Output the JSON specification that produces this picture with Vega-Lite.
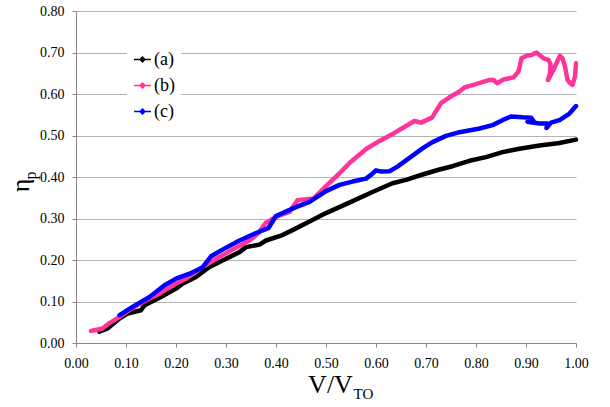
{
  "$schema": "https://vega.github.io/schema/vega-lite/v6.json",
  "width": 500,
  "height": 332,
  "autosize": {"type": "none"},
  "padding": {"left": 76, "top": 11, "right": 34, "bottom": 64},
  "background": "white",
  "config": {
    "view": {"stroke": null},
    "font": "Liberation Serif",
    "axis": {"labelFont": "Liberation Serif", "titleFont": "Liberation Serif", "labelColor": "black", "titleColor": "black", "titleFontWeight": "normal", "labelFontSize": 14, "domainColor": "#868686", "tickColor": "#868686", "gridColor": "#b3b3b3", "tickSize": 4},
    "legend": {"labelFont": "Liberation Serif"}
  },
  "data": {
    "values": [
      {"series": "(a)", "i": 1, "x": 0.047, "y": 0.027},
      {"series": "(a)", "i": 2, "x": 0.063, "y": 0.035},
      {"series": "(a)", "i": 3, "x": 0.087, "y": 0.059},
      {"series": "(a)", "i": 4, "x": 0.103, "y": 0.071},
      {"series": "(a)", "i": 5, "x": 0.13, "y": 0.079},
      {"series": "(a)", "i": 6, "x": 0.137, "y": 0.091},
      {"series": "(a)", "i": 7, "x": 0.167, "y": 0.109},
      {"series": "(a)", "i": 8, "x": 0.2, "y": 0.131},
      {"series": "(a)", "i": 9, "x": 0.213, "y": 0.143},
      {"series": "(a)", "i": 10, "x": 0.24, "y": 0.159},
      {"series": "(a)", "i": 11, "x": 0.267, "y": 0.183},
      {"series": "(a)", "i": 12, "x": 0.293, "y": 0.199},
      {"series": "(a)", "i": 13, "x": 0.327, "y": 0.219},
      {"series": "(a)", "i": 14, "x": 0.34, "y": 0.231},
      {"series": "(a)", "i": 15, "x": 0.367, "y": 0.237},
      {"series": "(a)", "i": 16, "x": 0.38, "y": 0.247},
      {"series": "(a)", "i": 17, "x": 0.413, "y": 0.26},
      {"series": "(a)", "i": 18, "x": 0.433, "y": 0.272},
      {"series": "(a)", "i": 19, "x": 0.467, "y": 0.293},
      {"series": "(a)", "i": 20, "x": 0.5, "y": 0.313},
      {"series": "(a)", "i": 21, "x": 0.55, "y": 0.34},
      {"series": "(a)", "i": 22, "x": 0.593, "y": 0.364},
      {"series": "(a)", "i": 23, "x": 0.633, "y": 0.385},
      {"series": "(a)", "i": 24, "x": 0.66, "y": 0.393},
      {"series": "(a)", "i": 25, "x": 0.693, "y": 0.406},
      {"series": "(a)", "i": 26, "x": 0.727, "y": 0.418},
      {"series": "(a)", "i": 27, "x": 0.753, "y": 0.426},
      {"series": "(a)", "i": 28, "x": 0.787, "y": 0.439},
      {"series": "(a)", "i": 29, "x": 0.82, "y": 0.448},
      {"series": "(a)", "i": 30, "x": 0.853, "y": 0.46},
      {"series": "(a)", "i": 31, "x": 0.887, "y": 0.468},
      {"series": "(a)", "i": 32, "x": 0.927, "y": 0.476},
      {"series": "(a)", "i": 33, "x": 0.967, "y": 0.482},
      {"series": "(a)", "i": 34, "x": 1.0, "y": 0.49},
      {"series": "(b)", "i": 1, "x": 0.03, "y": 0.029},
      {"series": "(b)", "i": 2, "x": 0.053, "y": 0.035},
      {"series": "(b)", "i": 3, "x": 0.067, "y": 0.048},
      {"series": "(b)", "i": 4, "x": 0.087, "y": 0.063},
      {"series": "(b)", "i": 5, "x": 0.107, "y": 0.08},
      {"series": "(b)", "i": 6, "x": 0.14, "y": 0.103},
      {"series": "(b)", "i": 7, "x": 0.167, "y": 0.119},
      {"series": "(b)", "i": 8, "x": 0.193, "y": 0.139},
      {"series": "(b)", "i": 9, "x": 0.22, "y": 0.155},
      {"series": "(b)", "i": 10, "x": 0.253, "y": 0.183},
      {"series": "(b)", "i": 11, "x": 0.28, "y": 0.203},
      {"series": "(b)", "i": 12, "x": 0.313, "y": 0.225},
      {"series": "(b)", "i": 13, "x": 0.347, "y": 0.247},
      {"series": "(b)", "i": 14, "x": 0.365, "y": 0.265},
      {"series": "(b)", "i": 15, "x": 0.38, "y": 0.29},
      {"series": "(b)", "i": 16, "x": 0.4, "y": 0.304},
      {"series": "(b)", "i": 17, "x": 0.427, "y": 0.316},
      {"series": "(b)", "i": 18, "x": 0.443, "y": 0.344},
      {"series": "(b)", "i": 19, "x": 0.475, "y": 0.348},
      {"series": "(b)", "i": 20, "x": 0.5, "y": 0.378},
      {"series": "(b)", "i": 21, "x": 0.527, "y": 0.409},
      {"series": "(b)", "i": 22, "x": 0.548, "y": 0.435},
      {"series": "(b)", "i": 23, "x": 0.581, "y": 0.468},
      {"series": "(b)", "i": 24, "x": 0.607, "y": 0.487},
      {"series": "(b)", "i": 25, "x": 0.635, "y": 0.505},
      {"series": "(b)", "i": 26, "x": 0.66, "y": 0.523},
      {"series": "(b)", "i": 27, "x": 0.677, "y": 0.535},
      {"series": "(b)", "i": 28, "x": 0.69, "y": 0.531},
      {"series": "(b)", "i": 29, "x": 0.712, "y": 0.543},
      {"series": "(b)", "i": 30, "x": 0.73, "y": 0.578},
      {"series": "(b)", "i": 31, "x": 0.747, "y": 0.592},
      {"series": "(b)", "i": 32, "x": 0.767, "y": 0.606},
      {"series": "(b)", "i": 33, "x": 0.777, "y": 0.616},
      {"series": "(b)", "i": 34, "x": 0.8, "y": 0.624},
      {"series": "(b)", "i": 35, "x": 0.827, "y": 0.634},
      {"series": "(b)", "i": 36, "x": 0.835, "y": 0.634},
      {"series": "(b)", "i": 37, "x": 0.842, "y": 0.626},
      {"series": "(b)", "i": 38, "x": 0.855, "y": 0.635},
      {"series": "(b)", "i": 39, "x": 0.875, "y": 0.64},
      {"series": "(b)", "i": 40, "x": 0.885, "y": 0.654},
      {"series": "(b)", "i": 41, "x": 0.891, "y": 0.686},
      {"series": "(b)", "i": 42, "x": 0.901, "y": 0.692},
      {"series": "(b)", "i": 43, "x": 0.911, "y": 0.694},
      {"series": "(b)", "i": 44, "x": 0.921, "y": 0.7},
      {"series": "(b)", "i": 45, "x": 0.935, "y": 0.686},
      {"series": "(b)", "i": 46, "x": 0.945, "y": 0.682},
      {"series": "(b)", "i": 47, "x": 0.949, "y": 0.672},
      {"series": "(b)", "i": 48, "x": 0.948, "y": 0.65},
      {"series": "(b)", "i": 49, "x": 0.944, "y": 0.634},
      {"series": "(b)", "i": 50, "x": 0.955, "y": 0.658},
      {"series": "(b)", "i": 51, "x": 0.963, "y": 0.68},
      {"series": "(b)", "i": 52, "x": 0.968, "y": 0.692},
      {"series": "(b)", "i": 53, "x": 0.973, "y": 0.686},
      {"series": "(b)", "i": 54, "x": 0.978, "y": 0.666},
      {"series": "(b)", "i": 55, "x": 0.983, "y": 0.634},
      {"series": "(b)", "i": 56, "x": 0.988, "y": 0.626},
      {"series": "(b)", "i": 57, "x": 0.993, "y": 0.622},
      {"series": "(b)", "i": 58, "x": 0.998, "y": 0.642},
      {"series": "(b)", "i": 59, "x": 1.0, "y": 0.674},
      {"series": "(c)", "i": 1, "x": 0.087, "y": 0.067},
      {"series": "(c)", "i": 2, "x": 0.113, "y": 0.087},
      {"series": "(c)", "i": 3, "x": 0.147, "y": 0.111},
      {"series": "(c)", "i": 4, "x": 0.177, "y": 0.139},
      {"series": "(c)", "i": 5, "x": 0.2, "y": 0.155},
      {"series": "(c)", "i": 6, "x": 0.227, "y": 0.167},
      {"series": "(c)", "i": 7, "x": 0.253, "y": 0.182},
      {"series": "(c)", "i": 8, "x": 0.27, "y": 0.209},
      {"series": "(c)", "i": 9, "x": 0.293, "y": 0.225},
      {"series": "(c)", "i": 10, "x": 0.327, "y": 0.247},
      {"series": "(c)", "i": 11, "x": 0.36, "y": 0.265},
      {"series": "(c)", "i": 12, "x": 0.385, "y": 0.277},
      {"series": "(c)", "i": 13, "x": 0.4, "y": 0.306},
      {"series": "(c)", "i": 14, "x": 0.435, "y": 0.325},
      {"series": "(c)", "i": 15, "x": 0.467, "y": 0.34},
      {"series": "(c)", "i": 16, "x": 0.5, "y": 0.366},
      {"series": "(c)", "i": 17, "x": 0.527, "y": 0.381},
      {"series": "(c)", "i": 18, "x": 0.553, "y": 0.389},
      {"series": "(c)", "i": 19, "x": 0.58, "y": 0.396},
      {"series": "(c)", "i": 20, "x": 0.59, "y": 0.405},
      {"series": "(c)", "i": 21, "x": 0.6, "y": 0.416},
      {"series": "(c)", "i": 22, "x": 0.61, "y": 0.413},
      {"series": "(c)", "i": 23, "x": 0.627, "y": 0.414},
      {"series": "(c)", "i": 24, "x": 0.643, "y": 0.425},
      {"series": "(c)", "i": 25, "x": 0.667, "y": 0.446},
      {"series": "(c)", "i": 26, "x": 0.693, "y": 0.469},
      {"series": "(c)", "i": 27, "x": 0.713, "y": 0.484},
      {"series": "(c)", "i": 28, "x": 0.74, "y": 0.499},
      {"series": "(c)", "i": 29, "x": 0.767, "y": 0.508},
      {"series": "(c)", "i": 30, "x": 0.807, "y": 0.517},
      {"series": "(c)", "i": 31, "x": 0.833, "y": 0.525},
      {"series": "(c)", "i": 32, "x": 0.853, "y": 0.537},
      {"series": "(c)", "i": 33, "x": 0.87, "y": 0.546},
      {"series": "(c)", "i": 34, "x": 0.893, "y": 0.544},
      {"series": "(c)", "i": 35, "x": 0.91, "y": 0.543},
      {"series": "(c)", "i": 36, "x": 0.915, "y": 0.535},
      {"series": "(c)", "i": 37, "x": 0.903, "y": 0.533},
      {"series": "(c)", "i": 38, "x": 0.927, "y": 0.529},
      {"series": "(c)", "i": 39, "x": 0.943, "y": 0.529},
      {"series": "(c)", "i": 40, "x": 0.941, "y": 0.518},
      {"series": "(c)", "i": 41, "x": 0.95, "y": 0.531},
      {"series": "(c)", "i": 42, "x": 0.967, "y": 0.537},
      {"series": "(c)", "i": 43, "x": 0.987, "y": 0.553},
      {"series": "(c)", "i": 44, "x": 1.0, "y": 0.571}
    ]
  },
  "layer": [
    {
      "mark": {"type": "line", "strokeWidth": 4.5, "strokeJoin": "round", "strokeCap": "round"},
      "encoding": {
        "x": {"field": "x", "type": "quantitative", "scale": {"domain": [0, 1], "nice": false, "zero": false},
          "axis": {"values": [0, 0.1, 0.2, 0.3, 0.4, 0.5, 0.6, 0.7, 0.8, 0.9, 1.0], "format": ".2f", "grid": false, "labelPadding": 9, "labelFlush": false,
            "labelFont": "Liberation Serif", "titleFont": "Liberation Serif",
            "title": "V/V", "titleFontSize": 26, "titleAlign": "center", "titleBaseline": "alphabetic", "titleX": 254, "titleY": 49}},
        "y": {"field": "y", "type": "quantitative", "scale": {"domain": [0, 0.8], "nice": false},
          "axis": {"values": [0, 0.1, 0.2, 0.3, 0.4, 0.5, 0.6, 0.7, 0.8], "format": ".2f", "grid": true, "labelPadding": 8, "labelFlush": false,
            "labelFont": "Liberation Serif", "titleFont": "Liberation Serif",
            "title": "η", "titleFontSize": 26, "titleAngle": -90, "titleAlign": "center", "titleBaseline": "alphabetic", "titleX": -48, "titleY": 174}},
        "color": {"field": "series", "type": "nominal",
          "scale": {"domain": ["(a)", "(b)", "(c)"], "range": ["#000000", "#ff3399", "#0000ff"]},
          "legend": {"title": null, "orient": "none", "legendX": 51, "legendY": 33, "fillColor": "white", "padding": 6,
            "labelFont": "Liberation Serif", "labelFontSize": 18, "labelColor": "black", "labelOffset": 2, "rowPadding": 7,
            "symbolType": "M-1,0L1,0M0,-0.28L0.28,0L0,0.28L-0.28,0Z", "symbolSize": 289, "symbolStrokeWidth": 1.5,
            "encode": {"symbols": {"update": {"fill": {"scale": "color", "field": "value"}, "stroke": {"scale": "color", "field": "value"}}}}}
        },
        "order": {"field": "i", "type": "quantitative"}
      }
    },
    {
      "mark": {"type": "line", "strokeOpacity": 0, "opacity": 0},
      "encoding": {
        "x": {"field": "x", "type": "quantitative", "scale": {"domain": [0, 1], "nice": false, "zero": false},
          "axis": {"orient": "bottom", "labels": false, "ticks": false, "domain": false, "grid": false, "titleFont": "Liberation Serif",
            "title": "TO", "titleFontSize": 15, "titleAlign": "left", "titleBaseline": "alphabetic", "titleX": 277, "titleY": 55}},
        "y": {"field": "y", "type": "quantitative", "scale": {"domain": [0, 0.8], "nice": false},
          "axis": {"orient": "left", "labels": false, "ticks": false, "domain": false, "grid": false, "titleFont": "Liberation Serif",
            "title": "p", "titleFontSize": 16, "titleAngle": -90, "titleAlign": "center", "titleBaseline": "alphabetic", "titleX": -41, "titleY": 164}},
        "detail": {"field": "series", "type": "nominal"},
        "order": {"field": "i", "type": "quantitative"}
      }
    }
  ],
  "resolve": {"scale": {"x": "independent", "y": "independent"}}
}
